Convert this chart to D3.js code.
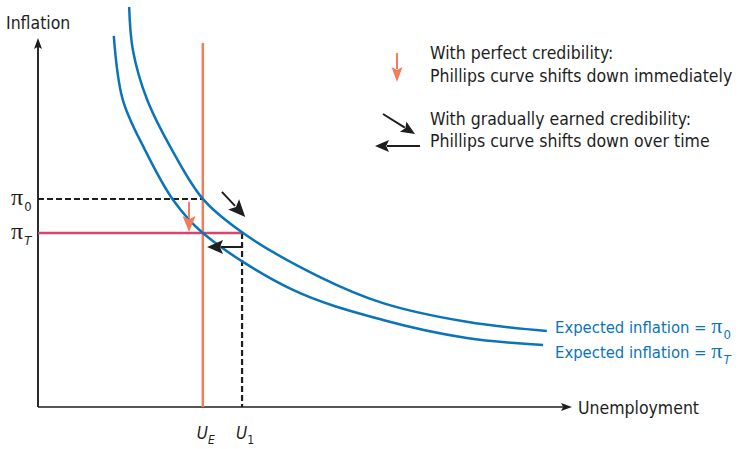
<!DOCTYPE html>
<html>
<head>
<meta charset="utf-8">
<script src="https://cdn.jsdelivr.net/npm/d3@7"></script>
<style>
  body { margin: 0; background: #fff; }
</style>
</head>
<body>
<div id="chart"></div>
<script>
// -----------------------------------------
//DATA
// -----------------------------------------
// points (unemployment, inflation) in chart units 0-10
var curveP0 = [[1.72, 10.90], [1.79, 9.73], [2.06, 8.37], [2.53, 7.00], [3.11, 5.67],
               [3.87, 4.74], [5.32, 3.54], [6.51, 2.83], [8.09, 2.32], [9.60, 2.07]];
var curvePT = [[1.43, 10.11], [1.60, 8.37], [2.02, 7.00], [2.55, 5.64], [3.11, 4.74],
               [4.81, 3.19], [6.51, 2.37], [8.09, 1.88], [9.53, 1.69]];
var uE = 3.11, u1 = 3.85;       // unemployment marks
var pi0 = 5.67, piT = 4.74;     // inflation marks
var lineTop = 9.92;             // top of the vertical U_E line
var curveLabels = ["0", "T"];   // subscripts of the curve labels

// arrows on the chart [x1, y1, x2, y2]
var arrowDown = [2.85, 5.59, 2.85, 4.77];
var arrowDiag = [3.47, 5.86, 3.91, 5.18];
var arrowLeft = [3.85, 4.36, 3.19, 4.36];

//FORMAT VARIABLES
var W = 738, H = 449;
var fontF = "'DejaVu Sans Condensed', 'DejaVu Sans', sans-serif";
var piF = "'Liberation Serif', 'DejaVu Serif', serif";
var fs = 17.5;
var blue = "#0a74b9";
var orange = "#f27c5b";
var red = "#d8446c";
var ink = "#1e1e1e";

var x = d3.scaleLinear().domain([0, 10]).range([38, 568]);
var y = d3.scaleLinear().domain([0, 10]).range([407, 40]);

// -----------------------------------------
//WE CREATE THE SVG
// -----------------------------------------
var svgContainer = d3.select("#chart")
  .append("svg")
  .attr("width", W)
  .attr("height", H)
  .style("font-family", fontF);

function arrow(x1, y1, x2, y2, color, len, wid, sw) {
  var dx = x2 - x1, dy = y2 - y1;
  var d = Math.sqrt(dx*dx + dy*dy);
  var ux = dx/d, uy = dy/d;
  var bx = x2 - ux*len, by = y2 - uy*len;
  svgContainer.append("line")
    .attr("x1", x1).attr("y1", y1)
    .attr("x2", bx + ux*2).attr("y2", by + uy*2)
    .style("stroke", color)
    .style("stroke-width", sw);
  svgContainer.append("path")
    .attr("d", "M" + x2 + "," + y2 +
      "L" + (bx - uy*wid/2) + "," + (by + ux*wid/2) +
      "L" + (bx + ux*len*0.2) + "," + (by + uy*len*0.2) +
      "L" + (bx + uy*wid/2) + "," + (by - ux*wid/2) + "Z")
    .style("fill", color);
}

// label with a pi and a subscript
function piLabel(px, py, pre, sub, italic, color, size, tsize) {
  var t = svgContainer.append("text")
    .attr("x", px).attr("y", py)
    .style("font-size", tsize + "px").style("fill", color);
  if (pre) t.append("tspan").text(pre);
  t.append("tspan")
    .style("font-family", piF)
    .style("font-size", size + "px")
    .text("\u03c0");
  t.append("tspan")
    .attr("dy", 6).attr("dx", 1)
    .style("font-size", "13px")
    .style("font-style", italic ? "italic" : "normal")
    .text(sub);
}

//WE DRAW THE AXES
svgContainer.append("line")
  .attr("x1", x(0)).attr("y1", y(0))
  .attr("x2", x(0)).attr("y2", y(10) + 6)
  .style("stroke", ink).style("stroke-width", 1.5);
arrow(x(0), y(0), x(0), y(10) - 2, ink, 11, 8, 1.5);
arrow(x(0), y(0), x(10) + 4, y(0), ink, 11, 8, 1.5);

svgContainer.append("text")
  .attr("x", 6).attr("y", 29)
  .style("font-size", fs + "px").style("fill", ink)
  .text("Inflation");
svgContainer.append("text")
  .attr("x", 578).attr("y", 414)
  .style("font-size", fs + "px").style("fill", ink)
  .text("Unemployment");

//GUIDE LINES
svgContainer.append("line")
  .attr("x1", x(0)).attr("y1", y(pi0))
  .attr("x2", x(uE)).attr("y2", y(pi0))
  .style("stroke", ink).style("stroke-width", 2)
  .style("stroke-dasharray", "6,3");
svgContainer.append("line")
  .attr("x1", x(u1)).attr("y1", y(piT))
  .attr("x2", x(u1)).attr("y2", y(0))
  .style("stroke", ink).style("stroke-width", 2.2)
  .style("stroke-dasharray", "6,3");
svgContainer.append("line")
  .attr("x1", x(0)).attr("y1", y(piT))
  .attr("x2", x(u1)).attr("y2", y(piT))
  .style("stroke", red).style("stroke-width", 2.5);
svgContainer.append("line")
  .attr("x1", x(uE)).attr("y1", y(lineTop))
  .attr("x2", x(uE)).attr("y2", y(0))
  .style("stroke", orange).style("stroke-width", 2.5);

//WE DRAW THE CURVES
var line = d3.line()
  .x(function(d){ return x(d[0]); })
  .y(function(d){ return y(d[1]); })
  .curve(d3.curveCatmullRom);

[curveP0, curvePT].forEach(function(c){
  svgContainer.append("path")
    .attr("d", line(c))
    .style("fill", "none")
    .style("stroke", blue)
    .style("stroke-width", 2.5);
});

//CURVE LABELS
curveLabels.forEach(function(s, i){
  piLabel(555, 333 + i*25, "Expected inflation = ", s, i == 1, blue, 22, 16.5);
});

//ARROWS ON THE CHART
arrow(x(arrowDown[0]), y(arrowDown[1]), x(arrowDown[2]), y(arrowDown[3]), orange, 16, 13, 2);
arrow(x(arrowDiag[0]), y(arrowDiag[1]), x(arrowDiag[2]), y(arrowDiag[3]), ink, 17, 15, 2);
arrow(x(arrowLeft[0]), y(arrowLeft[1]), x(arrowLeft[2]), y(arrowLeft[3]), ink, 16, 14, 2);

//AXIS MARK LABELS
piLabel(11, y(pi0) + 6, null, "0", false, ink, 24, 17);
piLabel(11, y(piT) + 6, null, "T", true, ink, 24, 17);

[[uE, "E"], [u1, "1"]].forEach(function(u){
  var t = svgContainer.append("text")
    .attr("x", x(u[0]) - 6)
    .attr("y", 439)
    .style("font-size", "17px").style("fill", ink);
  t.append("tspan").style("font-style", "italic").text("U");
  t.append("tspan")
    .attr("dy", 5)
    .style("font-size", "12px")
    .style("font-style", u[1] == "E" ? "italic" : "normal")
    .text(u[1]);
});

// -----------------------------------------
// WE DRAW THE LEGEND
arrow(397, 53, 397, 82, orange, 15, 11, 2);
arrow(383, 114, 415, 134, ink, 14, 12, 2);
arrow(420, 146, 375, 146, ink, 14, 12, 2);

var legendText = [["With perfect credibility:", 59], ["Phillips curve shifts down immediately", 82],
                  ["With gradually earned credibility:", 125], ["Phillips curve shifts down over time", 147]];
legendText.forEach(function(l){
  svgContainer.append("text")
    .attr("x", 430).attr("y", l[1])
    .style("font-size", fs + "px").style("fill", ink)
    .text(l[0]);
});
</script>
</body>
</html>
